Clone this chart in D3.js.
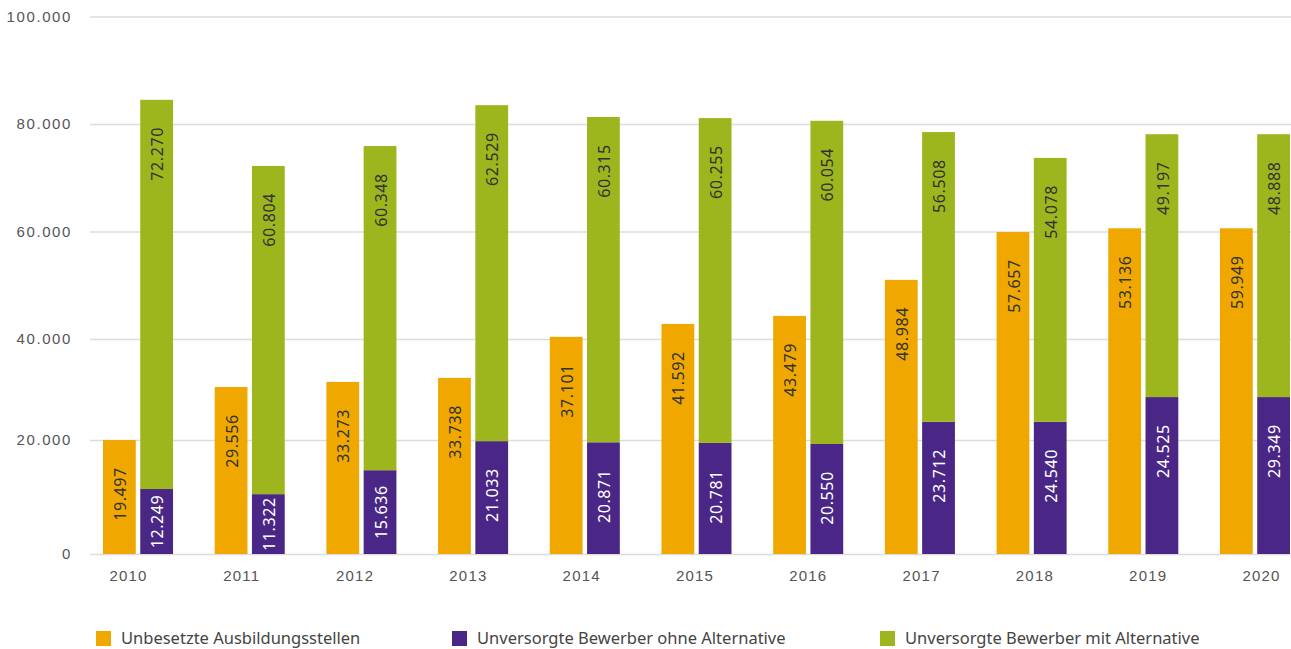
<!DOCTYPE html>
<html>
<head>
<meta charset="utf-8">
<script src="https://cdn.jsdelivr.net/npm/d3@7"></script>
<style>
  body { margin: 0; background: #fff; }
  svg { display: block; font-family: "Noto Sans", sans-serif; }
</style>
</head>
<body>
<svg id="chart"></svg>
<script>
// Years on the x axis
const years = ["2010", "2011", "2012", "2013", "2014", "2015", "2016", "2017", "2018", "2019", "2020"];

// Bar heights as drawn in the picture
const offeneStellen = [20000, 30500, 31500, 32300, 40400, 42800, 44300, 51000, 59900, 60600, 60600];
const ohneAlternative = [11400, 10500, 14700, 19800, 19600, 19500, 19300, 23600, 23600, 28500, 28500];
const mitAlternative = [73100, 61700, 61200, 63700, 61700, 61600, 61300, 54900, 50100, 49600, 49600];

// Numbers printed in the bars
const offeneStellenLabels = [19497, 29556, 33273, 33738, 37101, 41592, 43479, 48984, 57657, 53136, 59949];
const ohneAlternativeLabels = [12249, 11322, 15636, 21033, 20871, 20781, 20550, 23712, 24540, 24525, 29349];
const mitAlternativeLabels = [72270, 60804, 60348, 62529, 60315, 60255, 60054, 56508, 54078, 49197, 48888];

// y ticks
const yTicks = [0, 20000, 40000, 60000, 80000, 100000];

const seriesNames = ["Unbesetzte Ausbildungsstellen", "Unversorgte Bewerber ohne Alternative", "Unversorgte Bewerber mit Alternative"];
const colors = ["#f0a800", "#4a2786", "#9db61d"];

const width = 1291;
const height = 649;

const de = d3.formatLocale({ decimal: ",", thousands: ".", grouping: [3], currency: ["", "€"] });
const fmt = de.format(",");

const svg = d3.select("#chart").attr("width", width).attr("height", height);

// y scale (grid in the picture is not evenly spaced at the bottom)
const y = d3.scaleLinear()
  .domain([0, 20000, 40000, 100000])
  .range([554, 440, 339, 16.5]);

// group scale and inner scale
const x0 = d3.scaleBand().domain(years).range([103, 1290]).paddingInner(0.373).paddingOuter(0);
const x1 = d3.scaleBand().domain(["a", "b"]).range([0, x0.bandwidth()]).paddingInner(0.12);
// year labels sit a bit apart from the bars
const xLabel = d3.scalePoint().domain(years).range([128, 1261]);

// grid + y labels
const yAxis = svg.append("g")
  .attr("transform", "translate(90,0)")
  .call(d3.axisLeft(y).tickValues(yTicks).tickSize(-(width - 90)).tickPadding(18).tickFormat(fmt));
yAxis.select(".domain").remove();
yAxis.selectAll("line").attr("stroke", "#dcdcdc").attr("stroke-width", 1.5);
yAxis.selectAll("text")
  .attr("fill", "#555")
  .style("font-size", "15px")
  .style("letter-spacing", "1.6px");

// x labels
const xAxis = svg.append("g")
  .attr("transform", "translate(0,570)")
  .call(d3.axisBottom(xLabel).tickSize(0).tickPadding(0));
xAxis.select(".domain").remove();
xAxis.selectAll("text")
  .attr("fill", "#555")
  .attr("dy", "0.75em")
  .style("font-size", "15px")
  .style("letter-spacing", "1.2px");

// build rows for bars
const rows = years.map((yr, i) => ({
  year: yr,
  orange: offeneStellen[i],
  purple: ohneAlternative[i],
  green: mitAlternative[i],
  orangeLabel: offeneStellenLabels[i],
  purpleLabel: ohneAlternativeLabels[i],
  greenLabel: mitAlternativeLabels[i],
}));

const bars = [];
rows.forEach((d) => {
  bars.push({ x: x0(d.year) + x1("a"), y0: 0, y1: d.orange, color: colors[0], label: d.orangeLabel, text: "#333" });
  bars.push({ x: x0(d.year) + x1("b"), y0: 0, y1: d.purple, color: colors[1], label: d.purpleLabel, text: "#fff" });
  bars.push({ x: x0(d.year) + x1("b"), y0: d.purple, y1: d.purple + d.green, color: colors[2], label: d.greenLabel, text: "#333" });
});

svg.append("g")
  .selectAll("rect")
  .data(bars)
  .join("rect")
  .attr("x", (d) => d.x)
  .attr("y", (d) => y(d.y1))
  .attr("width", x1.bandwidth())
  .attr("height", (d) => y(d.y0) - y(d.y1))
  .attr("fill", (d) => d.color);

// value labels, rotated, near the top of each bar
svg.append("g")
  .selectAll("text")
  .data(bars)
  .join("text")
  .attr("transform", (d) => {
    const top = y(d.y1);
    const bottom = y(d.y0);
    const cy = Math.min(top + 54, (top + bottom) / 2);
    const cx = d.x + x1.bandwidth() / 2 + 1;
    return "translate(" + cx + "," + cy + ") rotate(-90)";
  })
  .attr("text-anchor", "middle")
  .attr("dy", "0.35em")
  .attr("fill", (d) => d.text)
  .style("font-size", "16px")
  .style("letter-spacing", "0.6px")
  .text((d) => fmt(d.label));

// legend
const legendX = [96, 452, 880];
const legend = svg.append("g")
  .selectAll("g")
  .data(seriesNames)
  .join("g")
  .attr("transform", (d, i) => "translate(" + legendX[i] + ",631)");

legend.append("rect")
  .attr("width", 15)
  .attr("height", 15)
  .attr("fill", (d, i) => colors[i]);

legend.append("text")
  .attr("x", 25)
  .attr("y", 13)
  .attr("fill", "#444")
  .style("font-size", "16.5px")
  .text((d) => d);
</script>
</body>
</html>
